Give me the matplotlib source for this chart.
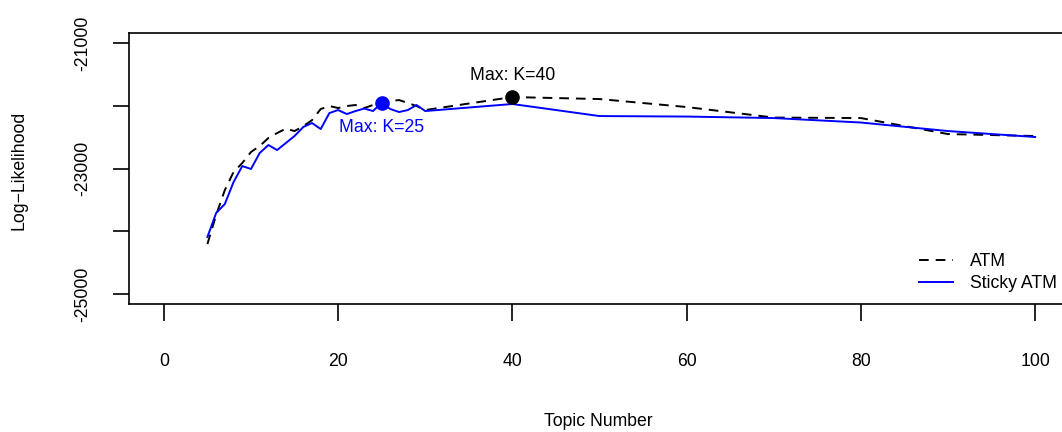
import matplotlib
matplotlib.use("Agg")
import matplotlib.pyplot as plt

plt.rcParams['font.family'] = ['Liberation Sans', 'DejaVu Sans']
plt.rcParams['lines.scale_dashes'] = False

# ---- data ----
topics = [5, 6, 7, 8, 9, 10, 11, 12, 13, 14, 15, 16, 17, 18, 19, 20,
          21, 22, 23, 24, 25, 26, 27, 28, 29, 30, 40, 50, 60, 70, 80, 90, 100]
atm = [-24204, -23742, -23343, -23056, -22913, -22737, -22642, -22514,
       -22435, -22365, -22403, -22325, -22230, -22052, -22004, -22036,
       -22004, -21988, -22036, -21988, -21940, -21925, -21909, -21956,
       -22004, -22068, -21861, -21893, -22020, -22188, -22196, -22451, -22482]
sticky = [-24092, -23710, -23566, -23216, -22961, -23008, -22753, -22626,
          -22706, -22594, -22482, -22339, -22275, -22371, -22116, -22068,
          -22132, -22084, -22044, -22084, -21956, -22052, -22100, -22068,
          -21988, -22084, -21972, -22164, -22172, -22196, -22267, -22403, -22498]
series_labels = ["ATM", "Sticky ATM"]
x_ticks = [0, 20, 40, 60, 80, 100]
y_ticks = [-25000, -24000, -23000, -22000, -21000]
y_tick_labels = ["-25000", "", "-23000", "", "-21000"]

W, H = 1062, 432
fig = plt.figure(figsize=(W / 100, H / 100), dpi=100)
ax = fig.add_axes([129 / W, 128 / H, (1070 - 129) / W, 271 / H])

FS = 12.7
ax.plot(topics, atm, color="black", lw=1.4, dashes=(7, 5), label=series_labels[0])
ax.plot(topics, sticky, color="blue", lw=1.4, label=series_labels[1])

# maxima
i_a = max(range(len(atm)), key=lambda i: atm[i])
i_s = max(range(len(sticky)), key=lambda i: sticky[i])
ax.plot(topics[i_a], atm[i_a], "o", color="black", ms=9.5)
ax.plot(topics[i_s], sticky[i_s], "o", color="blue", ms=9.5)
ax.annotate(f"Max: K={topics[i_a]}", (topics[i_a], atm[i_a]), xytext=(0, 15.8),
            textcoords="offset points", ha="center", va="center", fontsize=FS, color="black")
ax.annotate(f"Max: K={topics[i_s]}", (topics[i_s], sticky[i_s]), xytext=(0, -17.3),
            textcoords="offset points", ha="center", va="center", fontsize=FS, color="blue")

ax.set_xlim(-4, 104)
ax.set_ylim(-25160, -20840)
ax.set_xticks(x_ticks)
ax.set_xticklabels([str(t) for t in x_ticks])
ax.set_yticks(y_ticks)
ax.set_yticklabels(y_tick_labels, rotation=90, va="center")
ax.tick_params(axis="x", length=12, width=1.2, pad=23.5, labelsize=FS)
ax.tick_params(axis="y", length=11.5, width=1.2, pad=16, labelsize=FS)
for s in ax.spines.values():
    s.set_linewidth(1.2)

fig.text(598 / W, 1 - 422 / H, "Topic Number", ha="center", va="center", fontsize=FS)
fig.text(19 / W, 1 - 170 / H, "Log\u2212Likelihood", ha="center", va="center",
         rotation=90, fontsize=FS)

leg = ax.legend(loc="upper left", bbox_to_anchor=(919 / W, 1 - 253 / H),
                bbox_transform=fig.transFigure, frameon=False, fontsize=FS,
                borderpad=0, borderaxespad=0, handlelength=1.95, handletextpad=0.95,
                labelspacing=0.27)

fig.savefig("out.png", dpi=100)
